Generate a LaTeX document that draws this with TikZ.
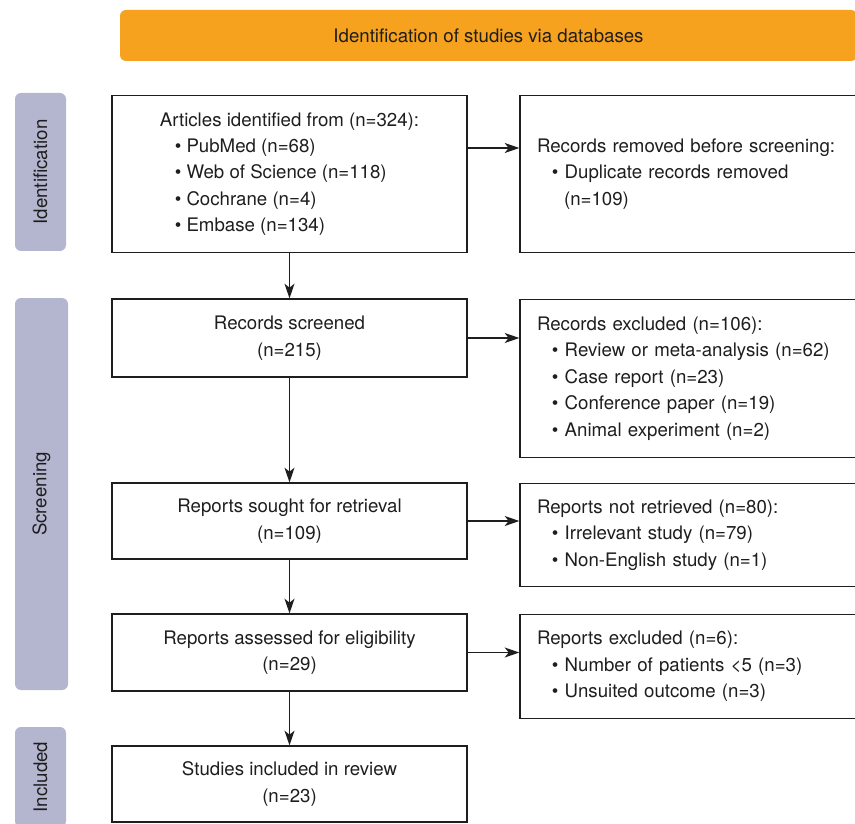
\documentclass[tikz,border=0pt]{standalone}
\usepackage{fontspec}
\setmainfont{TeX Gyre Heros}
\usetikzlibrary{arrows.meta}
\definecolor{bannerorange}{HTML}{F6A21E}
\definecolor{phaseblue}{HTML}{B4B6D0}
\definecolor{inkgray}{HTML}{1E1E1E}
\newcommand{\itm}[1]{\hspace*{0.8em}\textbullet\ #1}
\begin{document}
\begin{tikzpicture}[x=0.75pt, y=-0.75pt,
    every node/.style={font=\fontsize{14}{19.8}\selectfont, text=inkgray},
    box/.style={draw=inkgray, line width=0.95pt, align=center, minimum width=266.25pt},
    sidebox/.style={draw=inkgray, line width=0.95pt, align=left, text width=244.5pt,
        inner xsep=12.75pt, inner ysep=0pt},
    phase/.style={fill=phaseblue, rounded corners=4.5pt, rotate=90, minimum height=38.25pt},
    arr/.style={-{Stealth[length=11pt, width=7.5pt, inset=3pt]}, line width=0.95pt, draw=inkgray}]
    \useasboundingbox (0,0) rectangle (855,823);
    % banner
    \node[fill=bannerorange, rounded corners=4.5pt, minimum width=552.75pt, minimum height=38.25pt]
        (banner) at (488.5,35.5) {Identification of studies via databases};
    % phases
    \node[phase, minimum width=118.5pt] (identif) at (40.5,172) {Identification};
    \node[phase, minimum width=294pt, minimum height=39.75pt] (screen) at (41.5,494) {Screening};
    \node[phase, minimum width=75pt] (includ) at (40.5,777) {Included};
    % main column
    \node[box, minimum height=117.75pt, align=left] (art) at (289.5,174)
        {Articles identified from (n=324):\\ \itm{PubMed (n=68)}\\ \itm{Web of Science (n=118)}\\
         \itm{Cochrane (n=4)}\\ \itm{Embase (n=134)}};
    \node[box, minimum height=58.5pt] (scr) at (289.5,338) {Records screened\\(n=215)};
    \node[box, minimum height=57pt] (sought) at (289.5,521) {Reports sought for retrieval\\(n=109)};
    \node[box, minimum height=57.75pt] (elig) at (289.5,652.5) {Reports assessed for eligibility\\(n=29)};
    \node[box, minimum height=57pt] (incl) at (289.5,784) {Studies included in review\\(n=23)};
    % side column
    \node[sidebox, minimum height=117.75pt] (rem) at (700,174)
        {Records removed before screening:\\ \itm{Duplicate records removed}\\ \hspace*{1.45em}(n=109)};
    \node[sidebox, minimum height=118.5pt] (exc) at (700,378.5)
        {Records excluded (n=106):\\ \itm{Review or meta-analysis (n=62)}\\ \itm{Case report (n=23)}\\
         \itm{Conference paper (n=19)}\\ \itm{Animal experiment (n=2)}};
    \node[sidebox, minimum height=77.25pt] (notret) at (700,535)
        {Reports not retrieved (n=80):\\ \itm{Irrelevant study (n=79)}\\ \itm{Non-English study (n=1)}};
    \node[sidebox, minimum height=78pt] (excl) at (700,666.5)
        {Reports excluded (n=6):\\ \itm{Number of patients <5 (n=3)}\\ \itm{Unsuited outcome (n=3)}};
    % arrows down
    \draw[arr] (art) -- (scr);
    \draw[arr] (scr) -- (sought);
    \draw[arr] (sought) -- (elig);
    \draw[arr] (elig) -- (incl);
    % arrows right
    \draw[arr] ([yshift=19.5pt]art.east) -- ([yshift=19.5pt]art.east -| rem.west);
    \draw[arr] (scr.east) -- (scr.east -| exc.west);
    \draw[arr] (sought.east) -- (sought.east -| notret.west);
    \draw[arr] (elig.east) -- (elig.east -| excl.west);
\end{tikzpicture}
\end{document}
